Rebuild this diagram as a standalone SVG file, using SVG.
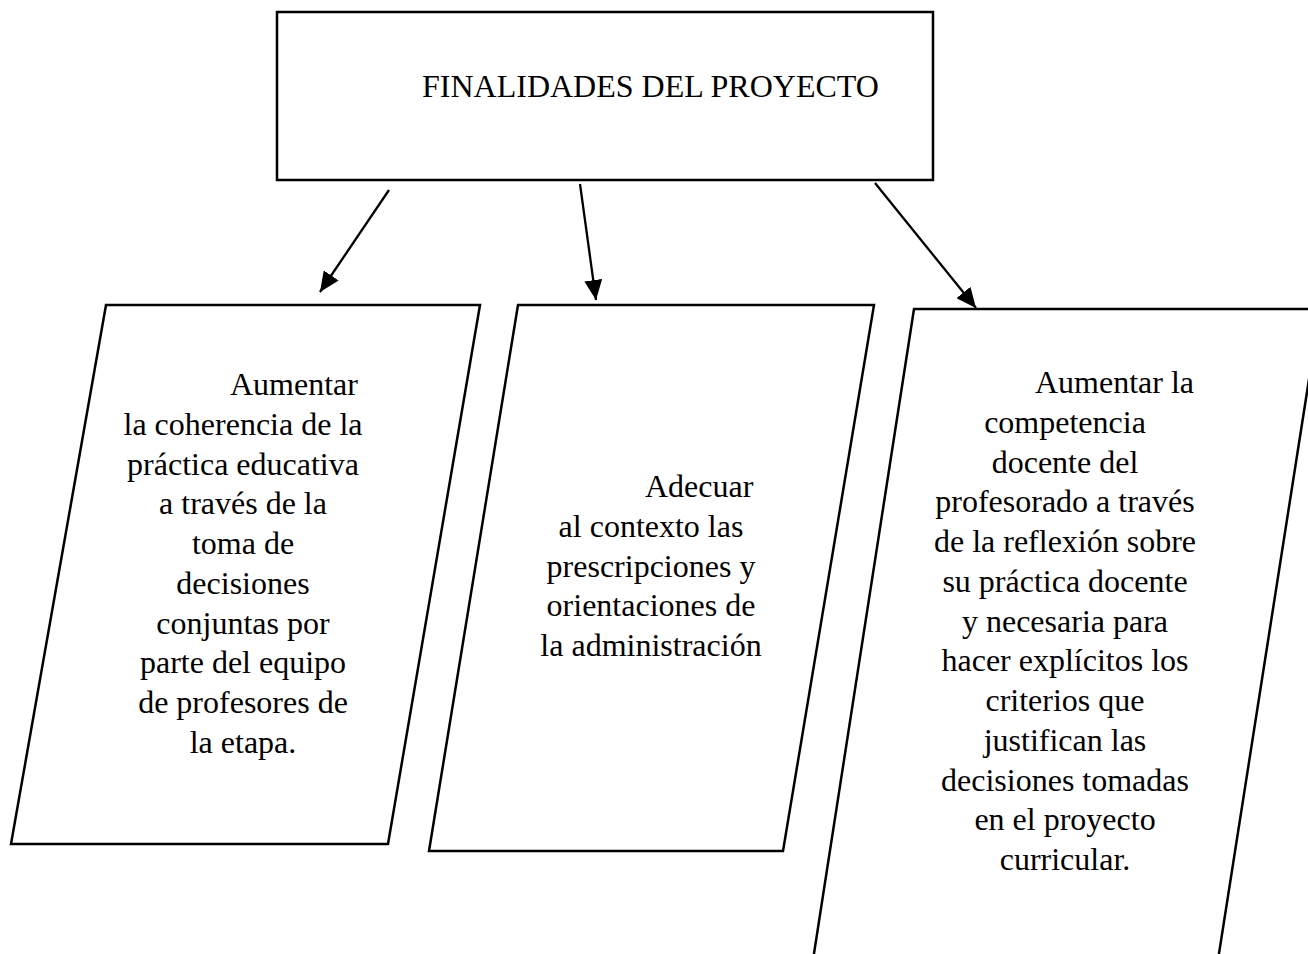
<svg xmlns="http://www.w3.org/2000/svg" width="1308" height="954" viewBox="0 0 1308 954">
<style>
.box{fill:#fff;stroke:#000;stroke-width:2.5}
.t{font-family:"Liberation Serif","Times New Roman",serif;font-size:32px;fill:#000}
.c{text-anchor:middle}
.edge{stroke:#000;stroke-width:2.3;fill:none}
</style>
<defs>
<marker id="ah" markerUnits="userSpaceOnUse" markerWidth="22" markerHeight="18" refX="20" refY="9" orient="auto">
<path d="M0,0 L20,9 L0,18 Z" fill="#000"/>
</marker>
</defs>
<rect width="1308" height="954" fill="#fff"/>
<g id="root">
<rect class="box" x="277" y="12" width="656" height="168"/>
<text class="t" x="422" y="97">FINALIDADES DEL PROYECTO</text>
</g>
<g id="node1">
<polygon class="box" points="106,305 480,305 388,844 11,844"/>
<text class="t" x="230" y="395">Aumentar</text>
<text class="t c" x="243"><tspan x="243" y="434.75">la coherencia de la</tspan><tspan x="243" y="474.5">práctica educativa</tspan><tspan x="243" y="514.25">a través de la</tspan><tspan x="243" y="554">toma de</tspan><tspan x="243" y="593.75">decisiones</tspan><tspan x="243" y="633.5">conjuntas por</tspan><tspan x="243" y="673.25">parte del equipo</tspan><tspan x="243" y="713">de profesores de</tspan><tspan x="243" y="752.75">la etapa.</tspan></text>
</g>
<g id="node2">
<polygon class="box" points="518,305 874,305 783,851 429,851"/>
<text class="t" x="645" y="497">Adecuar</text>
<text class="t c" x="651"><tspan x="651" y="536.75">al contexto las</tspan><tspan x="651" y="576.5">prescripciones y</tspan><tspan x="651" y="616.25">orientaciones de</tspan><tspan x="651" y="656">la administración</tspan></text>
</g>
<g id="node3">
<polygon class="box" points="914,309 1320,309 1218,960 813,960"/>
<text class="t" x="1035" y="393">Aumentar la</text>
<text class="t c" x="1065"><tspan x="1065" y="432.75">competencia</tspan><tspan x="1065" y="472.5">docente del</tspan><tspan x="1065" y="512.25">profesorado a través</tspan><tspan x="1065" y="552">de la reflexión sobre</tspan><tspan x="1065" y="591.75">su práctica docente</tspan><tspan x="1065" y="631.5">y necesaria para</tspan><tspan x="1065" y="671.25">hacer explícitos los</tspan><tspan x="1065" y="711">criterios que</tspan><tspan x="1065" y="750.75">justifican las</tspan><tspan x="1065" y="790.5">decisiones tomadas</tspan><tspan x="1065" y="830.25">en el proyecto</tspan><tspan x="1065" y="870">curricular.</tspan></text>
</g>
<g id="connectors">
<line class="edge" x1="389" y1="190" x2="320" y2="292" marker-end="url(#ah)"/>
<line class="edge" x1="580" y1="184" x2="596" y2="300" marker-end="url(#ah)"/>
<line class="edge" x1="875" y1="183" x2="976" y2="308" marker-end="url(#ah)"/>
</g>
</svg>
